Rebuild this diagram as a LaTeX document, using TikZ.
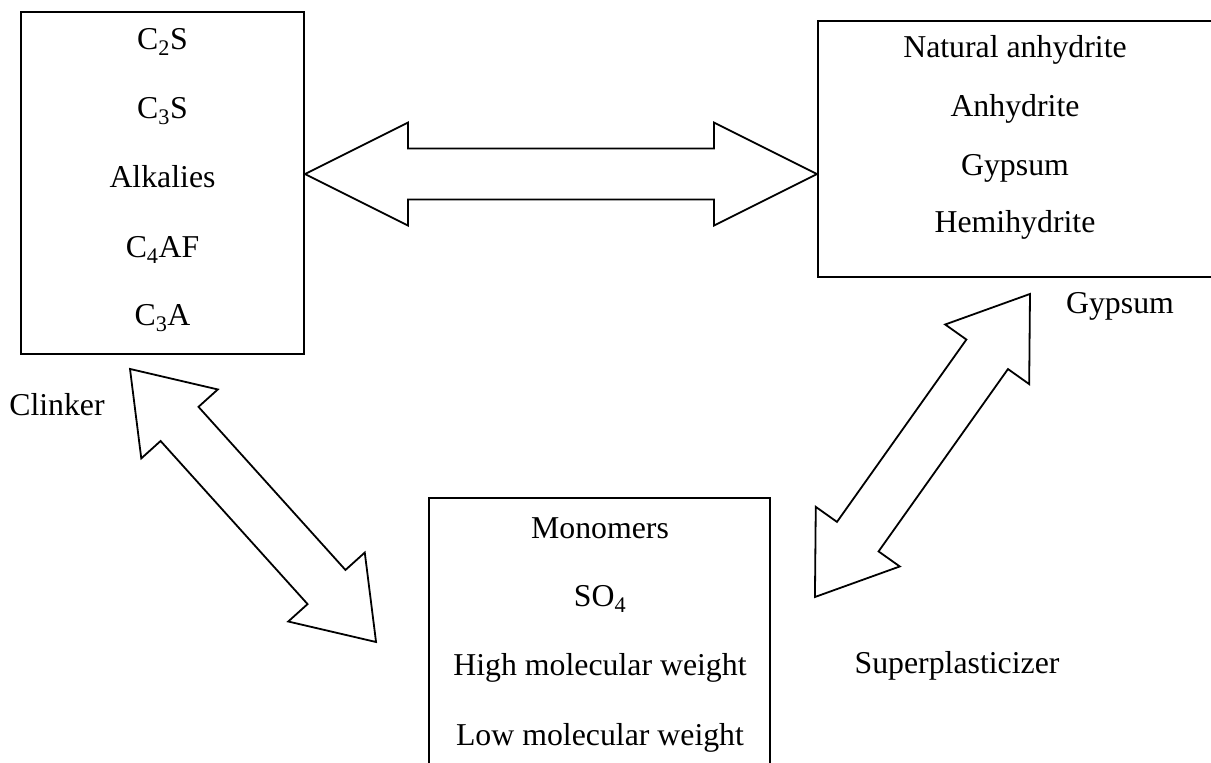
\documentclass[tikz,border=0pt]{standalone}
\usepackage{fontspec}
\setmainfont{Liberation Serif}
\usetikzlibrary{calc}

% hollow double arrow from #1 to #2, head length #3
\newcommand{\fatarrow}[3]{%
  \coordinate (fa1) at ($(#1)!#3!(#2)$);
  \coordinate (fa2) at ($(#2)!#3!(#1)$);
  \draw[fatline] (#1) -- ($(fa1)!51.5pt!90:(#2)$) -- ($(fa1)!25.5pt!90:(#2)$)
    -- ($(fa2)!25.5pt!-90:(#1)$) -- ($(fa2)!51.5pt!-90:(#1)$) -- (#2)
    -- ($(fa2)!51.5pt!90:(#1)$) -- ($(fa2)!25.5pt!90:(#1)$)
    -- ($(fa1)!25.5pt!-90:(#2)$) -- ($(fa1)!51.5pt!-90:(#2)$) -- cycle;
}

\begin{document}
\begin{tikzpicture}[x=1pt,y=-1pt]
        \tikzstyle{every node}=[font=\fontsize{31.8}{38}\selectfont]
        \tikzstyle{box}=[draw,line width=1.9pt,rectangle,inner sep=0pt]
        \tikzstyle{item}=[anchor=base,inner sep=0pt]
        \tikzstyle{fatline}=[line width=1.8pt,line join=miter,fill=white]
        \clip (0,0) rectangle (1211,763);
        % boxes
        \node[box,minimum width=283pt,minimum height=342pt] (clinker) at (162.5,183) {};
        \node[box,minimum width=402pt,minimum height=256pt] (gyp) at (1019,149) {};
        \node[box,minimum width=341pt,minimum height=302pt] (spl) at (599.5,649) {};
        \foreach \t/\y [count=\i] in {C\textsubscript{2}S/49,C\textsubscript{3}S/118,Alkalies/187,C\textsubscript{4}AF/257,C\textsubscript{3}A/325}
          \node[item] (cl\i) at (162.5,\y) {\t};
        \foreach \t/\y [count=\i] in {Natural anhydrite/57,Anhydrite/116.5,Gypsum/175,Hemihydrite/232}
          \node[item] (gy\i) at (1015,\y) {\t};
        \foreach \t/\y [count=\i] in {Monomers/538,SO\textsubscript{4}/606.5,High molecular weight/675,Low molecular weight/745}
          \node[item] (sp\i) at (600,\y) {\t};
        % labels
        \node[item] (clinkerlbl) at (57,415) {Clinker};
        \node[item] (gyplbl) at (1120,313) {Gypsum};
        \node[item] (spllbl) at (957,673) {Superplasticizer};
        % arrow ends
        \coordinate (c1) at ($(clinker.north east)!0.474!(clinker.south east)$);
        \coordinate (g1) at (gyp.west |- c1);
        \coordinate (c2) at ([shift={(-32.5,14)}]clinker.south);
        \coordinate (s1) at ([shift={(-52,-7)}]spl.west);
        \coordinate (g2) at ([shift={(11,16)}]gyp.south);
        \coordinate (s2) at ([shift={(44,-52)}]spl.east);
        \fatarrow{c1}{g1}{103pt}
        \fatarrow{c2}{s1}{74pt}
        \fatarrow{g2}{s2}{74pt}
\end{tikzpicture}
\end{document}
